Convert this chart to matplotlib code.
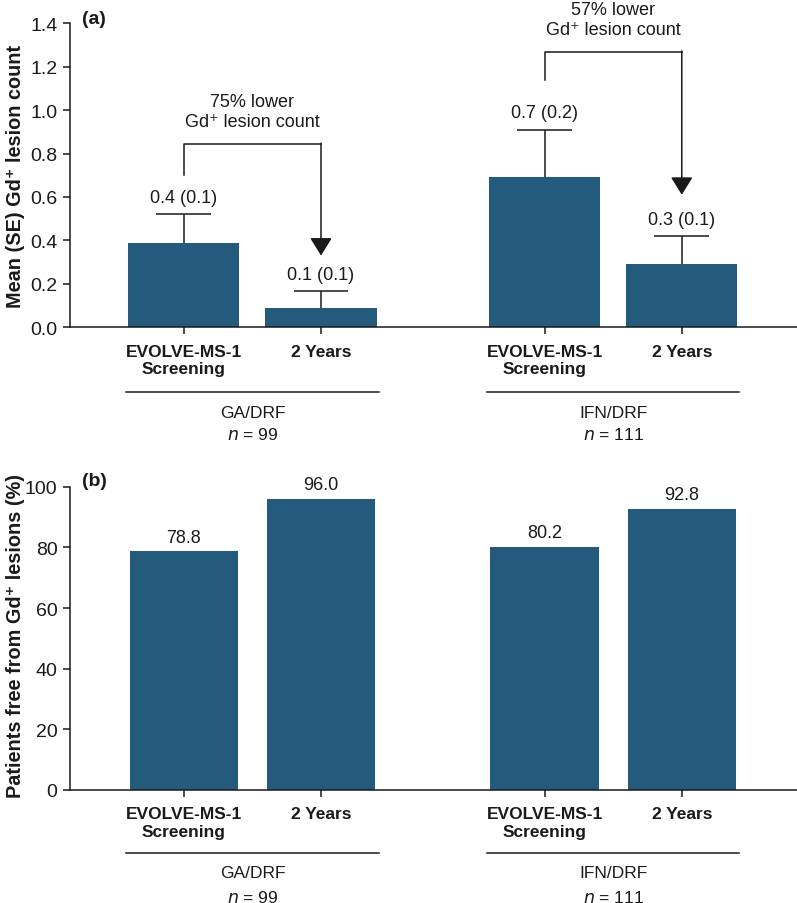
import matplotlib.pyplot as plt
from matplotlib.transforms import blended_transform_factory

plt.rcParams['font.family'] = ['Liberation Sans', 'DejaVu Sans']

# data
positions = [0, 1, 2.63, 3.63]
tick_labels = ['EVOLVE-MS-1\nScreening', '2 Years', 'EVOLVE-MS-1\nScreening', '2 Years']
groups = ['GA/DRF', 'IFN/DRF']
group_n = ['99', '111']

lesion_mean = [0.39, 0.09, 0.69, 0.29]
lesion_se = [0.13, 0.075, 0.22, 0.13]
lesion_text = ['0.4 (0.1)', '0.1 (0.1)', '0.7 (0.2)', '0.3 (0.1)']

reduction_text = ['75% lower\nGd\u207a lesion count', '57% lower\nGd\u207a lesion count']

free_pct = [78.8, 96.0, 80.2, 92.8]

color = '#245a7c'
dark = '#1a1a1a'

fig = plt.figure(figsize=(7.97, 9.04), dpi=100)
ax_a = fig.add_axes([0.0878, 0.637, 0.9122, 0.336])
ax_b = fig.add_axes([0.0878, 0.1253, 0.9122, 0.335])


def style(ax, yticks, fmt):
    ax.set_xlim(-0.83, 4.47)
    for s in ['top', 'right']:
        ax.spines[s].set_visible(False)
    for s in ['left', 'bottom']:
        ax.spines[s].set_linewidth(1.1)
        ax.spines[s].set_color(dark)
    ax.set_yticks(yticks)
    ax.set_yticklabels([fmt.format(v) for v in yticks], fontsize=14, color=dark)
    ax.set_xticks(positions)
    ax.set_xticklabels(tick_labels, fontsize=12.5, fontweight='bold', color=dark,
                       linespacing=1.2)
    ax.tick_params(axis='both', direction='out', length=5, width=1.1, color=dark)
    ax.tick_params(axis='x', pad=7)
    ax.tick_params(axis='y', pad=4)


def group_labels(ax, line_y, name_y, n_y):
    tr = blended_transform_factory(ax.transData, ax.transAxes)
    centers = [(positions[0] + positions[1]) / 2, (positions[2] + positions[3]) / 2]
    for c, g, n in zip(centers, groups, group_n):
        ax.plot([c - 0.92, c + 0.92], [line_y, line_y], color=dark, lw=1.1,
                transform=tr, clip_on=False)
        ax.text(c, name_y, g, transform=tr, ha='center', va='center',
                fontsize=12.5, color=dark)
        ax.text(c, n_y, '$n$ = ' + n, transform=tr, ha='center', va='center',
                fontsize=12.5, color=dark)


# panel (a)
ax_a.bar(positions, lesion_mean, width=0.81, color=color, zorder=2)
tops = [m + s for m, s in zip(lesion_mean, lesion_se)]
ax_a.vlines(positions, lesion_mean, tops, color=dark, lw=1.1, zorder=1)
ax_a.hlines(tops, [p - 0.2 for p in positions], [p + 0.2 for p in positions],
            color=dark, lw=1.1, zorder=1)
ax_a.set_ylim(0, 1.4)
style(ax_a, [0, 0.2, 0.4, 0.6, 0.8, 1.0, 1.2, 1.4], '{:.1f}')
for x, t, lab in zip(positions, tops, lesion_text):
    ax_a.annotate(lab, (x, t), xytext=(0, 6), textcoords='offset points',
                  ha='center', va='bottom', fontsize=13, color=dark)

# reduction brackets
brackets = [(0, 1, 0.70, 0.845, 0.33), (2, 3, 1.14, 1.27, 0.61)]
for (i, j, y0, ytop, ytip), txt in zip(brackets, reduction_text):
    x0, x1 = positions[i], positions[j]
    ax_a.plot([x0, x0, x1], [y0, ytop, ytop], color=dark, lw=1.1, clip_on=False)
    ax_a.annotate('', xy=(x1, ytip), xytext=(x1, ytop + 0.003),
                  arrowprops=dict(arrowstyle='-|>,head_length=1.0,head_width=0.62',
                                  mutation_scale=11, color=dark, lw=1.1,
                                  shrinkA=0, shrinkB=0),
                  annotation_clip=False)
    ax_a.annotate(txt, ((x0 + x1) / 2, ytop), xytext=(0, 10), textcoords='offset points',
                  ha='center', va='bottom', fontsize=13, color=dark, linespacing=1.2,
                  annotation_clip=False)

group_labels(ax_a, -0.214, -0.28, -0.352)
ax_a.text(0.016, 1.015, '(a)', transform=ax_a.transAxes, fontsize=14,
          fontweight='bold', va='center', ha='left', color=dark)

# panel (b)
ax_b.bar(positions, free_pct, width=0.79, color=color, zorder=2)
ax_b.set_ylim(0, 100)
style(ax_b, [0, 20, 40, 60, 80, 100], '{:.0f}')
for x, v in zip(positions, free_pct):
    ax_b.annotate(f'{v:.1f}', (x, v), xytext=(0, 4), textcoords='offset points',
                  ha='center', va='bottom', fontsize=13, color=dark)
group_labels(ax_b, -0.208, -0.274, -0.353)
ax_b.text(0.016, 1.02, '(b)', transform=ax_b.transAxes, fontsize=14,
          fontweight='bold', va='center', ha='left', color=dark)

fig.text(0.019, 0.805, 'Mean (SE) Gd\u207a lesion count', rotation=90, fontsize=14.3,
         fontweight='bold', ha='center', va='center', color=dark)
fig.text(0.019, 0.296, 'Patients free from Gd\u207a lesions (%)', rotation=90,
         fontsize=14.3, fontweight='bold', ha='center', va='center', color=dark)

fig.savefig('out.png', dpi=100)
